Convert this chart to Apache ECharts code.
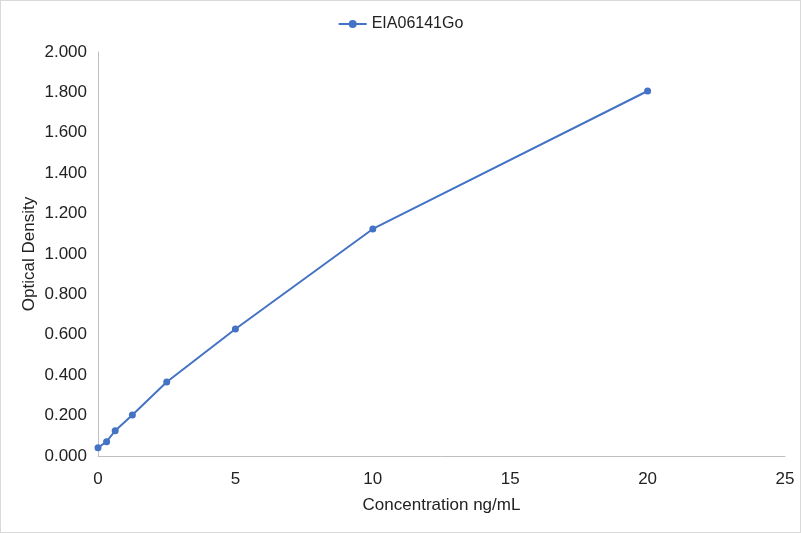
<!DOCTYPE html>
<html>
<head>
<meta charset="utf-8">
<script src="https://cdn.jsdelivr.net/npm/echarts@6/dist/echarts.min.js"></script>
<style>
  html, body { margin: 0; padding: 0; background: #fff; }
  #main { width: 799px; height: 531px; border: 1px solid #d9d9d9; }
</style>
</head>
<body>
<div id="main"></div>
<script>
// standard curve values
const concentration = [0, 0.3125, 0.625, 1.25, 2.5, 5, 10, 20];
const density = [0.041, 0.071, 0.125, 0.203, 0.366, 0.629, 1.124, 1.807];
const seriesName = 'EIA06141Go';

const chart = echarts.init(document.getElementById('main'));
const font = 'Liberation Sans, Arial, sans-serif';

chart.setOption({
  animation: false,
  textStyle: { fontFamily: font },
  legend: {
    top: 10,
    left: 'center',
    itemWidth: 28,
    itemHeight: 10,
    textStyle: { fontSize: 16, color: '#222', fontFamily: font },
    data: [seriesName]
  },
  grid: { left: 97, right: 15, top: 51, bottom: 76, containLabel: false },
  xAxis: {
    type: 'value',
    min: 0,
    max: 25,
    interval: 5,
    name: 'Concentration ng/mL',
    nameLocation: 'middle',
    nameGap: 41,
    nameMoveOverlap: false,
    nameTextStyle: { fontSize: 17, color: '#222', fontFamily: font },
    axisLine: { lineStyle: { color: '#bfbfbf' } },
    axisTick: { show: false },
    splitLine: { show: false },
    axisLabel: { fontSize: 17, color: '#222', margin: 15, fontFamily: font }
  },
  yAxis: {
    type: 'value',
    min: 0,
    max: 2,
    interval: 0.2,
    name: 'Optical Density',
    nameLocation: 'middle',
    nameGap: 60,
    nameMoveOverlap: false,
    nameTextStyle: { fontSize: 17, color: '#222', fontFamily: font },
    axisLine: { show: true, lineStyle: { color: '#bfbfbf' } },
    axisTick: { show: false },
    splitLine: { show: false },
    axisLabel: {
      fontSize: 17, color: '#222', margin: 11, fontFamily: font,
      formatter: v => v.toFixed(3)
    }
  },
  series: [{
    name: seriesName,
    type: 'line',
    data: concentration.map((c, i) => [c, density[i]]),
    symbol: 'circle',
    symbolSize: 7,
    itemStyle: { color: '#4472c4' },
    lineStyle: { color: '#4472c4', width: 2 }
  }]
});
</script>
</body>
</html>
